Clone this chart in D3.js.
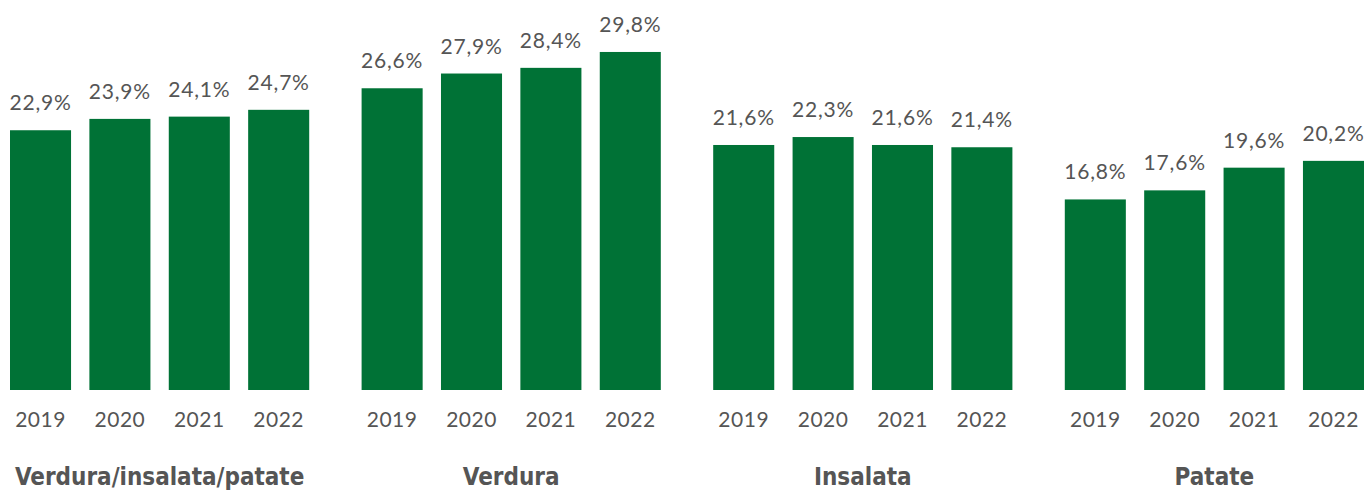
<!DOCTYPE html>
<html>
<head>
<meta charset="utf-8">
<script src="https://cdn.jsdelivr.net/npm/d3@7"></script>
<style>
  body { margin: 0; background: #fff; }
  svg text { fill: #555; }
</style>
</head>
<body>
<div id="chart"></div>
<script>
// data
const categories = ["Verdura/insalata/patate", "Verdura", "Insalata", "Patate"];
const years = ["2019", "2020", "2021", "2022"];
const totale   = [22.9, 23.9, 24.1, 24.7];
const verdura  = [26.6, 27.9, 28.4, 29.8];
const insalata = [21.6, 22.3, 21.6, 21.4];
const patate   = [16.8, 17.6, 19.6, 20.2];

const series = [totale, verdura, insalata, patate];

const width = 1368, height = 490;

let svg = d3.select("#chart").append("svg")
    .attr("width", width)
    .attr("height", height);

// outer scale for the groups, inner scale for years
let x0 = d3.scaleBand()
    .domain(categories)
    .range([10, 1364])
    .paddingInner(0.149)
    .paddingOuter(0);

let x1 = d3.scaleBand()
    .domain(years)
    .range([0, x0.bandwidth()])
    .paddingInner(0.231)
    .paddingOuter(0);

let y = d3.scaleLinear()
    .domain([0, 30])
    .range([390, 49.7]);

let fmt = v => d3.format(".1f")(v).replace(".", ",") + "%";

let groups = svg.selectAll(".group")
    .data(categories.map((c, i) => ({cat: c, values: series[i]})))
    .enter().append("g")
    .attr("class", "group")
    .attr("transform", d => "translate(" + x0(d.cat) + ",0)");

groups.selectAll("rect")
    .data(d => d.values.map((v, i) => ({year: years[i], value: v})))
    .enter().append("rect")
    .attr("x", d => x1(d.year))
    .attr("y", d => y(d.value))
    .attr("width", x1.bandwidth())
    .attr("height", d => y(0) - y(d.value))
    .attr("fill", "#007236");

groups.selectAll(".val")
    .data(d => d.values.map((v, i) => ({year: years[i], value: v})))
    .enter().append("text")
    .attr("class", "val")
    .attr("x", d => x1(d.year) + x1.bandwidth() / 2)
    .attr("y", d => y(d.value) - 20)
    .attr("text-anchor", "middle")
    .style("font-family", "Lato")
    .style("font-size", "21px")
    .style("letter-spacing", "0.8px")
    .text(d => fmt(d.value));

// year axis without line or ticks
groups.append("g")
    .attr("transform", "translate(0,390)")
    .call(d3.axisBottom(x1).tickSize(0).tickPadding(22))
    .call(g => g.select(".domain").remove())
    .call(g => g.selectAll("text")
        .style("font-family", "Lato")
        .style("font-size", "21px")
        .style("letter-spacing", "0.5px")
        .attr("fill", "#555"));

groups.append("text")
    .attr("class", "cat")
    .attr("x", x0.bandwidth() / 2)
    .attr("y", 485)
    .attr("text-anchor", "middle")
    .style("font-family", "'DejaVu Sans Condensed', 'DejaVu Sans'")
    .style("font-stretch", "condensed")
    .style("font-weight", "bold")
    .style("font-size", "24px")
    .text(d => d.cat);
</script>
</body>
</html>
